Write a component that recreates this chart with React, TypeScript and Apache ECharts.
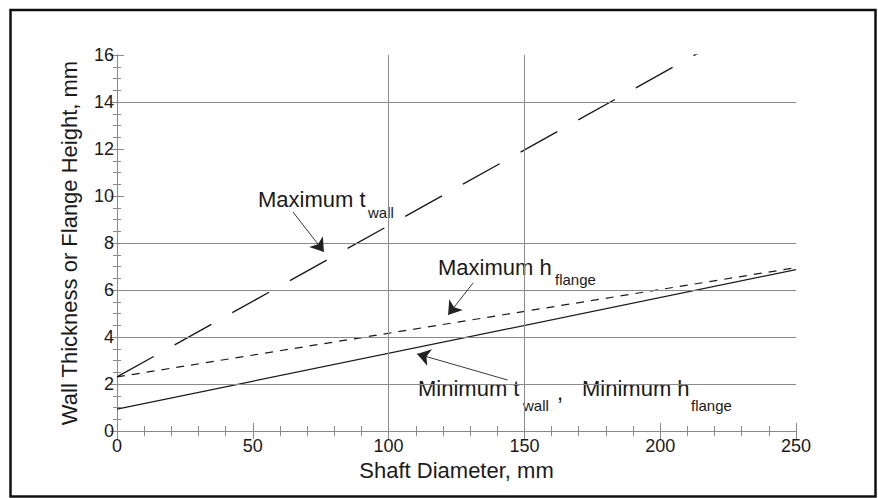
import React, { useEffect, useRef } from "react";
import * as echarts from "echarts";

// Data
const shaftDiameter = [0, 250];
const maxTWall = [2.3, 18.4];
const maxHFlange = [2.3, 6.95];
const minTWallHFlange = [0.93, 6.87];

const xTicks = [0, 50, 100, 150, 200, 250];
const yTicks = [0, 2, 4, 6, 8, 10, 12, 14, 16];
const verticalGrid = [100, 150];
const horizontalGrid = [2, 4, 6, 8, 14];

// annotation arrows in data coordinates: [fromX, fromY, toX, toY]
const arrowMaxTWall = [64.8, 9.32, 76.2, 7.62];
const arrowMaxHFlange = [131.1, 6.3, 121.9, 4.94];
const arrowMin = [143.8, 2.17, 110.5, 3.28];

const FONT = "'Liberation Sans', Arial, Helvetica, sans-serif";
const INK = "#1a1a1a";
const AXIS = "#8a8a8a";

function pairs(xs: number[], ys: number[]) {
  return xs.map((x, i) => [x, ys[i]]);
}

function arrow(a: number[]) {
  return [{ coord: [a[0], a[1]] }, { coord: [a[2], a[3]] }];
}

export default function App() {
  const ref = useRef<HTMLDivElement>(null);

  useEffect(() => {
    if (!ref.current) return;
    const chart = echarts.init(ref.current, undefined, { renderer: "svg" });

    const tickLabel = {
      color: INK,
      fontFamily: FONT,
      fontSize: 18,
    };

    const text = (t: string, x: number, y: number, size: number) => ({
      type: "text",
      x,
      y,
      silent: true,
      style: {
        text: t,
        fill: INK,
        font: `${size}px ${FONT}`,
        align: "left",
        verticalAlign: "middle",
      },
    });

    const option: any = {
      animation: false,
      backgroundColor: "#ffffff",
      grid: { left: 117, top: 55, right: 82, bottom: 67, containLabel: false },
      xAxis: [
        {
          type: "value",
          min: xTicks[0],
          max: xTicks[xTicks.length - 1],
          interval: 50,
          position: "bottom",
          name: "Shaft Diameter, mm",
          nameLocation: "middle",
          nameGap: 26,
          nameTextStyle: { color: INK, fontFamily: FONT, fontSize: 22 },
          axisLine: { show: true, lineStyle: { color: AXIS, width: 1 } },
          axisTick: { show: true, inside: true, length: 8, lineStyle: { color: AXIS } },
          minorTick: { show: true, splitNumber: 5, length: 5, lineStyle: { color: AXIS } },
          axisLabel: { ...tickLabel, margin: 6 },
          splitLine: { show: false },
        },
        {
          type: "value",
          min: xTicks[0],
          max: xTicks[xTicks.length - 1],
          interval: 50,
          position: "top",
          axisLine: { show: true, lineStyle: { color: AXIS, width: 1 } },
          axisTick: { show: true, inside: true, length: 8, lineStyle: { color: AXIS } },
          minorTick: { show: true, splitNumber: 5, length: 5, lineStyle: { color: AXIS } },
          axisLabel: { show: false },
          splitLine: { show: false },
        },
      ],
      yAxis: [
        {
          type: "value",
          min: yTicks[0],
          max: yTicks[yTicks.length - 1],
          interval: 2,
          position: "left",
          name: "Wall Thickness or Flange Height, mm",
          nameLocation: "middle",
          nameGap: 37,
          nameTextStyle: { color: INK, fontFamily: FONT, fontSize: 22 },
          axisLine: { show: true, lineStyle: { color: AXIS, width: 1 } },
          axisTick: { show: true, inside: true, length: 7, lineStyle: { color: AXIS } },
          minorTick: { show: true, splitNumber: 4, length: 4, lineStyle: { color: AXIS } },
          axisLabel: { ...tickLabel, margin: 3 },
          splitLine: { show: false },
        },
        {
          type: "value",
          min: yTicks[0],
          max: yTicks[yTicks.length - 1],
          interval: 2,
          position: "right",
          axisLine: { show: true, lineStyle: { color: AXIS, width: 1 } },
          axisTick: { show: true, inside: true, length: 7, lineStyle: { color: AXIS } },
          minorTick: { show: true, splitNumber: 4, length: 4, lineStyle: { color: AXIS } },
          axisLabel: { show: false },
          splitLine: { show: false },
        },
      ],
      series: [
        {
          name: "Grid",
          type: "line",
          data: [],
          silent: true,
          markLine: {
            silent: true,
            symbol: ["none", "none"],
            label: { show: false },
            lineStyle: { color: AXIS, width: 1, type: "solid" },
            data: [
              ...verticalGrid.map((v) => ({ xAxis: v })),
              ...horizontalGrid.map((v) => ({ yAxis: v })),
            ],
          },
        },
        {
          name: "Maximum t_wall",
          type: "line",
          data: pairs(shaftDiameter, maxTWall),
          showSymbol: false,
          symbol: "none",
          clip: true,
          lineStyle: { color: INK, width: 1.4, type: [42, 24] },
        },
        {
          name: "Maximum h_flange",
          type: "line",
          data: pairs(shaftDiameter, maxHFlange),
          showSymbol: false,
          symbol: "none",
          lineStyle: { color: INK, width: 1.2, type: [8, 7] },
        },
        {
          name: "Minimum t_wall, Minimum h_flange",
          type: "line",
          data: pairs(shaftDiameter, minTWallHFlange),
          showSymbol: false,
          symbol: "none",
          lineStyle: { color: INK, width: 1.2, type: "solid" },
        },
        {
          name: "Arrows",
          type: "line",
          data: [],
          silent: true,
          markLine: {
            silent: true,
            symbol: ["none", "arrow"],
            symbolSize: 13,
            label: { show: false },
            lineStyle: { color: "#222", width: 0.9, type: "solid" },
            itemStyle: { color: "#111" },
            data: [arrow(arrowMaxTWall), arrow(arrowMaxHFlange), arrow(arrowMin)],
          },
        },
      ],
      graphic: [
        {
          type: "rect",
          silent: true,
          shape: { x: 10.5, y: 10, width: 865, height: 486.5 },
          style: { fill: "none", stroke: "#111", lineWidth: 2.5 },
        },
        text("Maximum t", 258, 199, 22),
        text("wall", 368, 212, 15),
        text("Maximum h", 438, 267, 22),
        text("flange", 555, 279, 15),
        text("Minimum t", 418, 388, 22),
        text("wall", 523, 405, 15),
        text(",", 557, 392, 22),
        text("Minimum h", 582, 388, 22),
        text("flange", 691, 405, 15),
      ],
    };

    chart.setOption(option);
    return () => chart.dispose();
  }, []);

  return (
    <div
      ref={ref}
      style={{ position: "fixed", left: 0, top: 0, width: 878, height: 498, background: "#fff" }}
    />
  );
}
